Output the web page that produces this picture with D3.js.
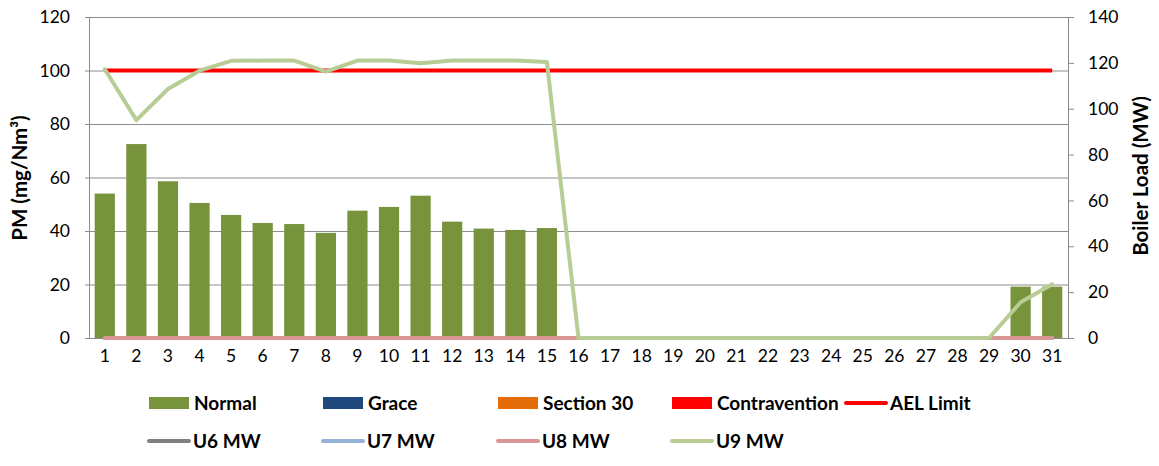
<!DOCTYPE html>
<html>
<head>
<meta charset="utf-8">
<script src="https://cdn.jsdelivr.net/npm/d3@7"></script>
<style>
  body { margin: 0; background: #fff; }
  text { font-family: Lato, "Open Sans", sans-serif; fill: #000; }
</style>
</head>
<body>
<div id="chart"></div>
<script>
// Daily data for the month
const days = d3.range(1, 32);
const normalPM = [54, 72.5, 58.6, 50.5, 46, 43, 42.6, 39.3, 47.6, 49, 53.2, 43.5, 40.9, 40.4, 41.1,
  null, null, null, null, null, null, null, null, null, null, null, null, null, null, 19.2, 19.2];
const aelLimit = days.map(() => 100);
const u6MW = days.map(() => 0);
const u7MW = days.map(() => 0);
const u8MW = days.map(() => 0);
const u9MW = [117.2, 95, 108.6, 116.6, 120.9, 121, 121, 116.2, 121, 121, 119.8, 121, 121, 121, 120.4,
  0, 0, 0, 0, 0, 0, 0, 0, 0, 0, 0, 0, 0, 0, 15.6, 23.4];
const leftTicks = [0, 20, 40, 60, 80, 100, 120];
const rightTicks = [0, 20, 40, 60, 80, 100, 120, 140];

const width = 1159, height = 466;
const margin = { top: 17, right: 91, bottom: 128, left: 89 };
const innerW = width - margin.left - margin.right;
const innerH = height - margin.top - margin.bottom;

const svg = d3.select("#chart").append("svg")
  .attr("width", width)
  .attr("height", height);

const g = svg.append("g")
  .attr("transform", "translate(" + margin.left + "," + margin.top + ")");

const x = d3.scaleBand().domain(days).range([0, innerW]).paddingInner(0.36).paddingOuter(0.18);
const xc = d3.scaleBand().domain(days).range([0, innerW]);
const yL = d3.scaleLinear().domain([0, 120]).range([innerH, 0]);
const yR = d3.scaleLinear().domain([0, 140]).range([innerH, 0]);

// gridlines
g.append("g")
  .selectAll("line")
  .data(leftTicks)
  .enter().append("line")
  .attr("x1", -4).attr("x2", innerW)
  .attr("y1", d => yL(d) + 0.5).attr("y2", d => yL(d) + 0.5)
  .attr("stroke", "#8c8c8c").attr("stroke-width", 1);

// left axis
const leftAxis = g.append("g").call(d3.axisLeft(yL).tickValues(leftTicks).tickSize(0).tickPadding(19));
leftAxis.select(".domain").remove();
leftAxis.selectAll("text").style("font-size", "17.5px").style("font-family", "Lato, sans-serif");
g.append("line").attr("x1", 0.5).attr("x2", 0.5).attr("y1", 0).attr("y2", innerH)
  .attr("stroke", "#8c8c8c");

// right axis
const rightAxis = g.append("g")
  .attr("transform", "translate(" + innerW + ",0)")
  .call(d3.axisRight(yR).tickValues(rightTicks).tickSize(6).tickPadding(14));
rightAxis.select(".domain").attr("stroke", "#8c8c8c");
rightAxis.selectAll(".tick line").attr("stroke", "#8c8c8c");
rightAxis.selectAll("text").style("font-size", "17.5px").style("font-family", "Lato, sans-serif");

// bottom axis
const bottomAxis = g.append("g")
  .attr("transform", "translate(0," + innerH + ")")
  .call(d3.axisBottom(xc).tickSize(0).tickPadding(12));
bottomAxis.select(".domain").attr("stroke", "#8c8c8c");
bottomAxis.selectAll("text").style("font-size", "17.5px").style("font-family", "Lato, sans-serif");

// bars
g.append("g")
  .selectAll("rect")
  .data(days.map((d, i) => ({ day: d, v: normalPM[i] })).filter(d => d.v !== null))
  .enter().append("rect")
  .attr("x", d => x(d.day))
  .attr("width", x.bandwidth())
  .attr("y", d => yL(d.v))
  .attr("height", d => innerH - yL(d.v))
  .attr("fill", "#77933c");

// lines
const cx = d => xc(d) + xc.bandwidth() / 2;
const lineL = d3.line().x((d, i) => cx(days[i])).y(d => yL(d));
const lineR = d3.line().x((d, i) => cx(days[i])).y(d => yR(d));

g.append("path").datum(aelLimit).attr("d", lineL)
  .attr("fill", "none").attr("stroke", "#ff0000").attr("stroke-width", 4);

const series = [
  { data: u6MW, color: "#808080" },
  { data: u7MW, color: "#95b3d7" },
  { data: u8MW, color: "#d99694" },
  { data: u9MW, color: "#b7cd95" }
];
series.forEach(s => {
  g.append("path").datum(s.data).attr("d", lineR)
    .attr("fill", "none").attr("stroke", s.color).attr("stroke-width", 4)
    .attr("stroke-linejoin", "round").attr("stroke-linecap", "round");
});

// axis titles
svg.append("text")
  .attr("transform", "translate(27,178) rotate(-90)")
  .attr("text-anchor", "middle")
  .style("font-size", "20.5px").style("font-weight", "bold")
  .text("PM (mg/Nm³)");
svg.append("text")
  .attr("transform", "translate(1148,176) rotate(-90)")
  .attr("text-anchor", "middle")
  .style("font-size", "20.5px").style("font-weight", "bold")
  .text("Boiler Load (MW)");

// legend
const legendItems = [
  { name: "Normal", type: "rect", color: "#77933c", x: 149, y: 403 },
  { name: "Grace", type: "rect", color: "#1f497d", x: 323, y: 403 },
  { name: "Section 30", type: "rect", color: "#e36c09", x: 498, y: 403 },
  { name: "Contravention", type: "rect", color: "#ff0000", x: 672, y: 403 },
  { name: "AEL Limit", type: "line", color: "#ff0000", x: 845, y: 403 },
  { name: "U6 MW", type: "line", color: "#808080", x: 148, y: 441 },
  { name: "U7 MW", type: "line", color: "#95b3d7", x: 322, y: 441 },
  { name: "U8 MW", type: "line", color: "#d99694", x: 497, y: 441 },
  { name: "U9 MW", type: "line", color: "#b7cd95", x: 671, y: 441 }
];
const legend = svg.append("g");
legendItems.forEach(it => {
  const lg = legend.append("g").attr("transform", "translate(" + it.x + "," + it.y + ")");
  if (it.type === "rect") {
    lg.append("rect").attr("x", 0).attr("y", -6).attr("width", 40).attr("height", 12).attr("fill", it.color);
  } else {
    lg.append("line").attr("x1", 1).attr("x2", 41).attr("y1", 0).attr("y2", 0)
      .attr("stroke", it.color).attr("stroke-width", 4).attr("stroke-linecap", "round");
  }
  lg.append("text").attr("x", 45).attr("y", 0).attr("dy", "0.35em")
    .style("font-size", "19px").style("font-weight", "bold")
    .text(it.name);
});
</script>
</body>
</html>
